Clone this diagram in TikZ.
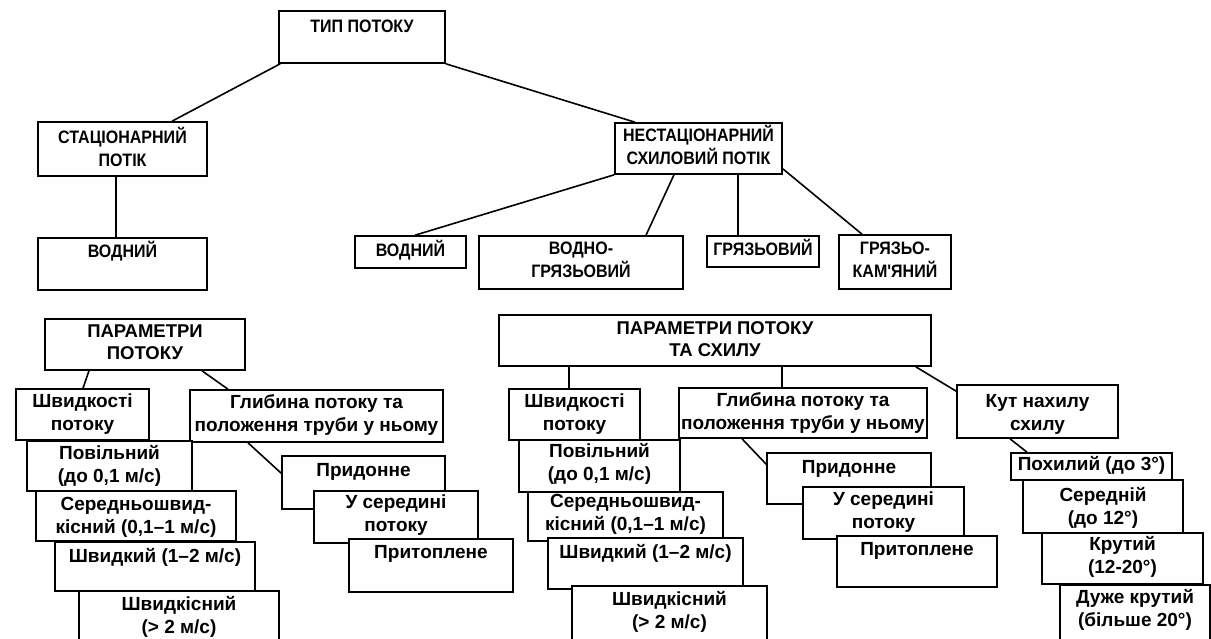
\documentclass[tikz,border=0pt]{standalone}
\usepackage{fontspec}
\setmainfont{Liberation Sans}
\newfontfamily\capsfam{Liberation Sans}[FakeStretch=0.89]
\usetikzlibrary{fit,calc}
\tikzset{
  bx/.style={draw, fill=white, line width=1.6pt, inner sep=0pt},
  capt/.style={font=\capsfam\bfseries\fontsize{18}{22.5}\selectfont, align=center, inner sep=0pt, anchor=base},
  bigt/.style={font=\bfseries\fontsize{18.5}{21.5}\selectfont, align=center, inner sep=0pt, anchor=base},
  lowt/.style={font=\bfseries\fontsize{19}{22.5}\selectfont, align=center, inner sep=0pt, anchor=base},
  ln/.style={line width=1.6pt}
}
% #6 = baseline of the last text line
\newcommand\mybox[8]{%
  \node[bx, fit={(#2,#3) (#4,#5)}] (#1) {};
  \node[#7] (#1t) at (#1 |- 0,#6) {#8};
}
\begin{document}
\begin{tikzpicture}[x=1pt, y=-1pt]
\useasboundingbox (0,0) rectangle (1211,638);
\clip (0,0) rectangle (1211,638);
% top levels
\mybox{tip}{279}{11}{445}{63}{32}{capt}{ТИП ПОТОКУ}
\mybox{stat}{38}{122}{207}{176}{166}{capt}{СТАЦІОНАРНИЙ\\ПОТІК}
\mybox{vodA}{38}{238}{207}{290}{257}{capt}{ВОДНИЙ}
\mybox{nest}{615}{123}{782}{174}{164}{capt}{НЕСТАЦІОНАРНИЙ\\СХИЛОВИЙ ПОТІК}
\mybox{vodB}{355}{236}{466}{268}{256}{capt}{ВОДНИЙ}
\mybox{vodgr}{479}{236}{683}{289}{277}{capt}{ВОДНО-\\ГРЯЗЬОВИЙ}
\mybox{gr}{707}{236}{819}{267}{255}{capt}{ГРЯЗЬОВИЙ}
\mybox{grk}{839}{235}{951}{289}{277}{capt}{ГРЯЗЬО-\\КАМ'ЯНИЙ}
% left parameters
\mybox{parA}{45}{319}{245}{370}{359}{bigt}{ПАРАМЕТРИ\\ПОТОКУ}
\mybox{shvA}{16}{389}{149}{440}{430}{lowt}{Швидкості\\потоку}
\mybox{glA}{190}{390}{443}{442}{431}{lowt}{Глибина потоку та\\положення труби у ньому}
\mybox{povA}{27}{441}{192}{491}{482}{lowt}{Повільний\\(до 0,1 м/с)}
\mybox{serA}{36}{491}{236}{541}{533}{lowt}{Середньошвид-\\кісний (0,1–1 м/с)}
\mybox{shkA}{55}{542}{255}{591}{562}{lowt}{Швидкий (1–2 м/с)}
\mybox{shsA}{79}{591}{279}{650}{633}{lowt}{Швидкісний\\(> 2 м/с)}
\mybox{prA}{282}{456}{445}{509}{476}{lowt}{Придонне}
\mybox{usA}{314}{491}{478}{543}{531}{lowt}{У середині\\потоку}
\mybox{ptA}{349}{539}{513}{592}{558}{lowt}{Притоплене}
% right parameters
\mybox{parB}{499}{315}{931}{366}{356}{bigt}{ПАРАМЕТРИ ПОТОКУ\\ТА СХИЛУ}
\mybox{shvB}{509}{389}{640}{440}{430}{lowt}{Швидкості\\потоку}
\mybox{glB}{679}{388}{927}{438}{429}{lowt}{Глибина потоку та\\положення труби у ньому}
\mybox{povB}{519}{440}{680}{492}{480}{lowt}{Повільний\\(до 0,1 м/с)}
\mybox{serB}{528}{492}{723}{541}{530}{lowt}{Середньошвид-\\кісний (0,1–1 м/с)}
\mybox{shkB}{548}{538}{743}{589}{558}{lowt}{Швидкий (1–2 м/с)}
\mybox{shsB}{572}{586}{767}{650}{628}{lowt}{Швидкісний\\(> 2 м/с)}
\mybox{prB}{767}{453}{931}{504}{473}{lowt}{Придонне}
\mybox{usB}{803}{487}{964}{539}{528}{lowt}{У середині\\потоку}
\mybox{ptB}{837}{536}{997}{587}{555}{lowt}{Притоплене}
\mybox{kut}{957}{385}{1118}{438}{430}{lowt}{Кут нахилу\\схилу}
\mybox{pokh}{1011}{453}{1172}{480}{470}{lowt}{Похилий (до 3°)}
\mybox{sred}{1023}{480}{1183}{533}{524}{lowt}{Середній\\(до 12°)}
\mybox{krut}{1042}{533}{1203}{584}{573}{lowt}{Крутий\\(12-20°)}
\mybox{duzh}{1060}{585}{1210}{650}{626}{lowt}{Дуже крутий\\(більше 20°)}
% connectors
\draw[ln] ([xshift=2pt]tip.south west) -- ([xshift=49.5pt]stat.north);
\draw[ln] (tip.south east) -- ([xshift=-63.5pt]nest.north);
\draw[ln] ([xshift=-6.5pt]stat.south) -- ([xshift=-6.5pt]vodA.north);
\draw[ln] (nest.south west) -- ([xshift=4.5pt]vodB.north);
\draw[ln] ([xshift=-24.5pt]nest.south) -- ([xshift=65pt]vodgr.north);
\draw[ln] ([xshift=39.5pt]nest.south) -- ([xshift=-25pt]gr.north);
\draw[ln] ([yshift=6pt]nest.south east) -- ([xshift=-33pt]grk.north);
\draw[ln] ([xshift=-56pt]parA.south) -- ([xshift=0.5pt]shvA.north);
\draw[ln] ([xshift=57pt]parA.south) -- ([xshift=-88.5pt]glA.north);
\draw[ln] ([xshift=-68.5pt]glA.south) -- ([yshift=-18pt]prA.north west);
\draw[ln] ([xshift=-146pt]parB.south) -- ([xshift=-5.5pt]shvB.north);
\draw[ln] ([xshift=67pt]parB.south) -- ([xshift=-21pt]glB.north);
\draw[ln] ([xshift=-16pt]parB.south east) -- ([yshift=-7pt]kut.north west);
\draw[ln] ([xshift=-61pt]glB.south) -- ([yshift=-12pt]prB.north west);
\draw[ln] ([xshift=-27.5pt]kut.south) -- ([xshift=-64.5pt]pokh.north);
\end{tikzpicture}
\end{document}
